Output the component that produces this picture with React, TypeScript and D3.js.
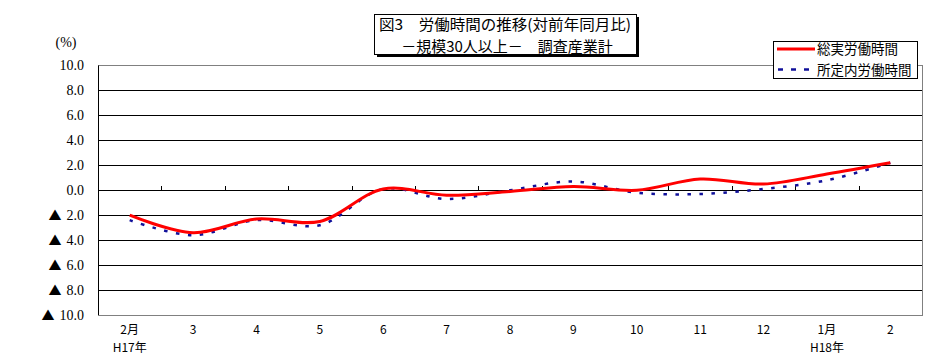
import React from "react";
import * as d3 from "d3";

const months = ["2月", "3", "4", "5", "6", "7", "8", "9", "10", "11", "12", "1月", "2"];
const yearLabels = ["H17年", "", "", "", "", "", "", "", "", "", "", "H18年", ""];
const totalHours = [-2.0, -3.4, -2.3, -2.5, 0.1, -0.4, -0.1, 0.3, 0.0, 0.9, 0.5, 1.3, 2.2];
const scheduledHours = [-2.4, -3.6, -2.4, -2.8, 0.1, -0.7, 0.0, 0.7, -0.2, -0.3, 0.1, 0.8, 2.2];
const yTicks = [10, 8, 6, 4, 2, 0, -2, -4, -6, -8, -10];
const titleLines = ["図3　労働時間の推移(対前年同月比)", "－規模30人以上－　調査産業計"];
const seriesNames = ["総実労働時間", "所定内労働時間"];

const W = 929;
const H = 363;
const plot = { left: 98, right: 922, top: 65.5, bottom: 315 };

export default function App() {
  const idx = months.map((_, i) => i);
  const xBand = d3.scaleBand<number>().domain(idx).range([plot.left, plot.right]).padding(0);
  const xc = (i: number) => (xBand(i) as number) + xBand.bandwidth() / 2;
  const y = d3.scaleLinear().domain([-10, 10]).range([plot.bottom, plot.top]);

  const line = d3
    .line<number>()
    .x((_, i) => xc(i))
    .y((d) => y(d))
    .curve(d3.curveCatmullRom.alpha(0.5));

  const gothic = "'Noto Sans CJK JP', sans-serif";
  const serif = "'Liberation Serif', 'DejaVu Serif', serif";

  const boundaries = d3.range(1, months.length).map((k) => plot.left + k * xBand.bandwidth());

  return (
    <svg
      width={W}
      height={H}
      style={{ position: "absolute", left: 0, top: 0, background: "#fff" }}
      xmlns="http://www.w3.org/2000/svg"
    >
      <rect x={0} y={0} width={W} height={H} fill="#fff" />
      {/* plot border */}
      <rect
        x={plot.left}
        y={plot.top}
        width={plot.right - plot.left}
        height={plot.bottom - plot.top}
        fill="#fff"
        stroke="#808080"
        strokeWidth={1}
        shapeRendering="crispEdges"
      />
      {/* gridlines */}
      {yTicks
        .filter((t) => t !== 10 && t !== -10)
        .map((t) => (
          <line
            key={"g" + t}
            x1={plot.left}
            x2={plot.right}
            y1={Math.round(y(t)) + 0.5}
            y2={Math.round(y(t)) + 0.5}
            stroke="#000"
            strokeWidth={1}
          />
        ))}
      {/* left axis */}
      <line x1={plot.left + 0.5} x2={plot.left + 0.5} y1={plot.top} y2={plot.bottom} stroke="#000" strokeWidth={1} />
      {/* x-axis ticks on zero line */}
      {boundaries.map((bx, k) => (
        <line
          key={"t" + k}
          x1={Math.round(bx) + 0.5}
          x2={Math.round(bx) + 0.5}
          y1={Math.round(y(0)) - 4}
          y2={Math.round(y(0)) + 0.5}
          stroke="#000"
          strokeWidth={1}
        />
      ))}
      {/* y tick labels */}
      <text x={66} y={47} fontFamily={serif} fontSize={14} textAnchor="middle" fill="#000">
        (%)
      </text>
      {yTicks.map((t) => (
        <text
          key={"yl" + t}
          x={84}
          y={y(t)}
          dy="0.35em"
          fontFamily={serif}
          fontSize={14}
          textAnchor="end"
          fill="#000"
        >
          {t < 0 ? (
            <>
              <tspan fontFamily={gothic} fontSize={13}>▲</tspan>
              <tspan dx={5}>{Math.abs(t).toFixed(1)}</tspan>
            </>
          ) : (
            t.toFixed(1)
          )}
        </text>
      ))}
      {/* x labels */}
      {months.map((m, i) => (
        <g key={"xl" + i}>
          <text x={xc(i)} y={334} fontFamily={gothic} fontSize={12} textAnchor="middle" fill="#000">
            {m}
          </text>
          {yearLabels[i] && (
            <text x={xc(i)} y={352} fontFamily={gothic} fontSize={12} textAnchor="middle" fill="#000">
              {yearLabels[i]}
            </text>
          )}
        </g>
      ))}
      {/* series */}
      <path d={line(scheduledHours) || ""} fill="none" stroke="#10109a" strokeWidth={2.5} strokeDasharray="3.5,8.5" />
      <path d={line(totalHours) || ""} fill="none" stroke="#ff0000" strokeWidth={3} strokeLinejoin="round" />
      {/* title */}
      <rect x={377} y={17} width={262} height={40} fill="#000" />
      <rect x={374} y={14} width={262} height={40} fill="#fff" stroke="#000" strokeWidth={1} shapeRendering="crispEdges" />
      <text x={505} y={30} fontFamily={gothic} fontSize={15} textAnchor="middle" fill="#000" textLength={252} lengthAdjust="spacingAndGlyphs">
        {titleLines[0]}
      </text>
      <text x={507} y={51.5} fontFamily={gothic} fontSize={15} textAnchor="middle" fill="#000">
        {titleLines[1]}
      </text>
      {/* legend */}
      <rect x={773.5} y={41.5} width={144} height={37} fill="#fff" stroke="#000" strokeWidth={1} />
      <line x1={777} x2={815} y1={49} y2={49} stroke="#ff0000" strokeWidth={3} />
      <line x1={778} x2={815} y1={69.5} y2={69.5} stroke="#10109a" strokeWidth={2.5} strokeDasharray="5,8" />
      <text x={817} y={54} fontFamily={gothic} fontSize={13.5} fill="#000">
        {seriesNames[0]}
      </text>
      <text x={817} y={75} fontFamily={gothic} fontSize={13.5} fill="#000">
        {seriesNames[1]}
      </text>
    </svg>
  );
}
